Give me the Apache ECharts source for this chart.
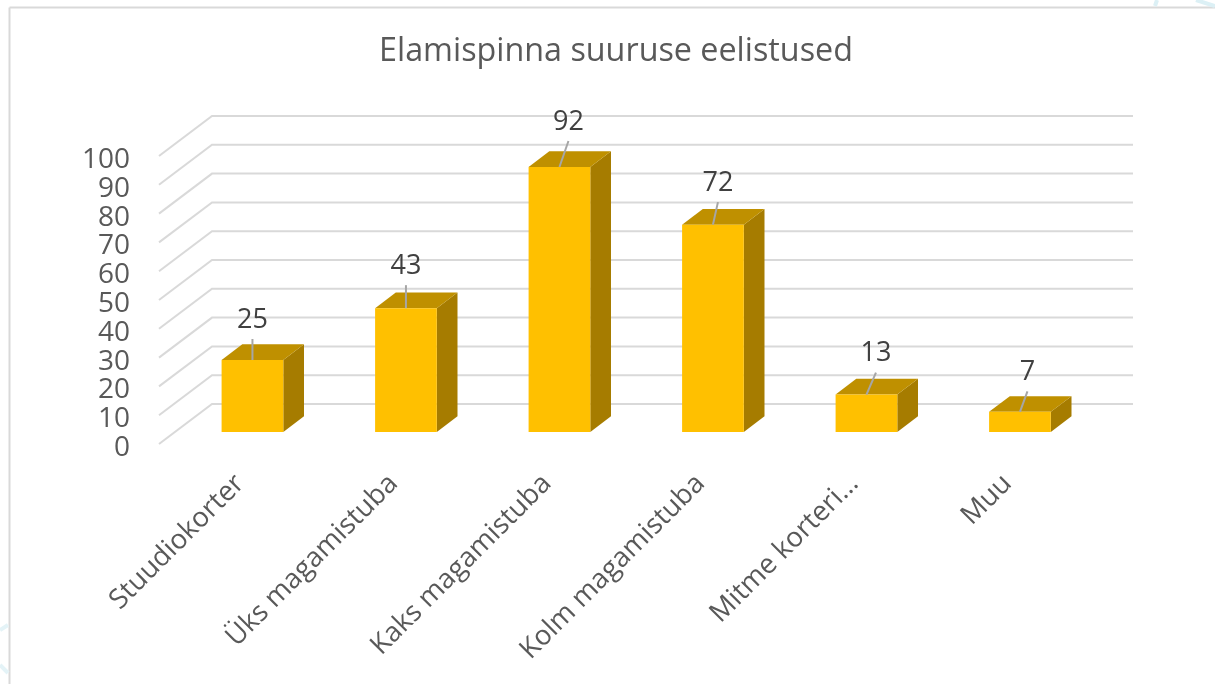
<!DOCTYPE html>
<html><head><meta charset="utf-8">
<style>html,body{margin:0;padding:0;background:#fff}#c{width:1215px;height:684px}</style>
<script src="https://cdn.jsdelivr.net/npm/echarts@6/dist/echarts.min.js"></script>
</head><body><div id="c"></div>
<script>
const titleText = 'Elamispinna suuruse eelistused';
const categories = ['Stuudiokorter','Üks magamistuba','Kaks magamistuba','Kolm magamistuba','Mitme korteri…','Muu'];
const values = [25,43,92,72,13,7];
const yTicks = [0,10,20,30,40,50,60,70,80,90,100];

// leader-line layout of the data labels (horizontal lean, label lift), per bar
const leaderLean = [0,0,9,5,9.5,7.5];
const labelLift = [42,44,47,43.5,43,41.5];

const font = '"Open Sans","Noto Sans",sans-serif';
const depthBack = [53,-40];
const barShift = [16.7,-12];
const barDepth = [20.7,-15.7];

const chart = echarts.init(document.getElementById('c'),null,{renderer:'canvas'});
chart.setOption({
  animation:false,
  backgroundColor:'#ffffff',
  title:{text:titleText,left:611,top:31,textAlign:'center',
    textStyle:{fontFamily:font,fontSize:32.3,fontWeight:'normal',color:'#595959'}},
  grid:{left:159,top:156,width:921,height:288,containLabel:false},
  xAxis:{type:'category',data:categories,
    axisLine:{show:false},axisTick:{show:false},splitLine:{show:false},
    axisLabel:{interval:0,rotate:45,margin:31,verticalAlign:'top',lineHeight:12,hideOverlap:false,fontFamily:font,fontSize:27.5,color:'#595959'}},
  yAxis:{type:'value',min:0,max:100,interval:10,
    axisLine:{show:false},axisTick:{show:false},splitLine:{show:false},
    axisLabel:{margin:29,verticalAlign:'top',lineHeight:8,fontFamily:font,fontSize:28,color:'#595959'}},
  graphic:[
    {type:'line',silent:true,shape:{x1:9.5,y1:7.5,x2:1215,y2:7.5},style:{stroke:'#d9d9d9',lineWidth:2}},
    {type:'line',silent:true,shape:{x1:9.5,y1:7.5,x2:9.5,y2:684},style:{stroke:'#d9d9d9',lineWidth:2}},
    {type:'line',silent:true,shape:{x1:1157,y1:0,x2:1155,y2:6},style:{stroke:'#dcf0f5',lineWidth:4}},
    {type:'line',silent:true,shape:{x1:1196,y1:0,x2:1215,y2:6},style:{stroke:'#dcf0f5',lineWidth:4}},
    {type:'line',silent:true,shape:{x1:0,y1:630,x2:8,y2:625},style:{stroke:'#e4f3f7',lineWidth:4}},
    {type:'line',silent:true,shape:{x1:0,y1:665,x2:8,y2:673},style:{stroke:'#e4f3f7',lineWidth:4}}
  ],
  series:[
    {type:'custom',coordinateSystem:'cartesian2d',silent:true,z:1,clip:false,
     data:yTicks.map(v=>[0,v]),
     renderItem(params,api){
       const cs=params.coordSys;
       const y=api.coord([0,api.value(1)])[1];
       return {type:'polyline',silent:true,
         shape:{points:[[cs.x,y],[cs.x+depthBack[0],y+depthBack[1]],[cs.x+cs.width+depthBack[0],y+depthBack[1]]]},
         style:{stroke:'#d9d9d9',lineWidth:2,fill:null}};
     }},
    {type:'custom',coordinateSystem:'cartesian2d',silent:true,z:2,clip:false,
     data:values.map((v,i)=>[i,v]),
     renderItem(params,api){
       const i=api.value(0),v=api.value(1);
       const top=api.coord([i,v]),base=api.coord([i,0]);
       const w=api.size([1,0])[0]*0.402;
       const cx=top[0]+barShift[0];
       const l=cx-w/2,r=cx+w/2;
       const t=top[1]+barShift[1],b=base[1]+barShift[1];
       const dx=barDepth[0],dy=barDepth[1];
       const lean=leaderLean[i],lift=labelLift[i];
       return {type:'group',children:[
         {type:'polygon',shape:{points:[[r,t],[r+dx,t+dy],[r+dx,b+dy],[r,b]]},style:{fill:'#A67C00'}},
         {type:'polygon',shape:{points:[[l,t],[l+dx,t+dy],[r+dx,t+dy],[r,t]]},style:{fill:'#BF9000'}},
         {type:'rect',shape:{x:l,y:t,width:w,height:b-t},style:{fill:'#FFC000'}},
         {type:'line',shape:{x1:cx,y1:t,x2:cx+lean,y2:t-lift+21},style:{stroke:'#a6a6a6',lineWidth:2}},
         {type:'text',x:cx+lean,y:t-lift+2,style:{text:String(values[i]),fontFamily:font,fontSize:27,fill:'#404040',align:'center',verticalAlign:'middle'}}
       ]};
     }}
  ]
});
</script></body></html>
